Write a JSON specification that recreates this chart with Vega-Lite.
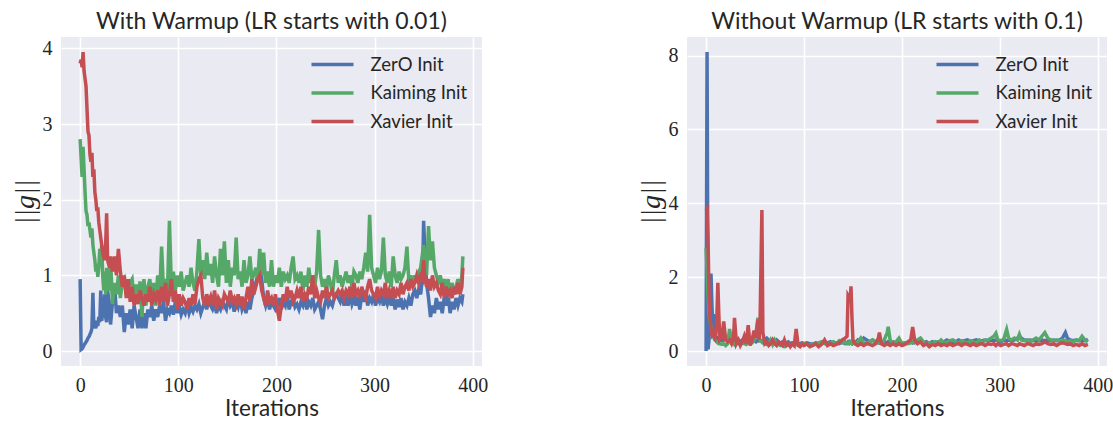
{
"$schema": "https://vega.github.io/schema/vega-lite/v6.json",
"padding": {"left": 11, "top": 11, "right": 0, "bottom": 0},
"spacing": 149,
"datasets": {
"left": [
{"i":0,"z":0.95,"k":2.8,"x":3.8},{"i":1,"z":0.02,"k":2.55,"x":3.85},{"i":2,"z":0.03,"k":2.3,"x":3.75},{"i":3,"z":0.05,"k":2.7,"x":3.95},{"i":4,"z":0.08,"k":2.4,"x":3.7},{"i":5,"z":0.1,"k":2.1,"x":3.6},{"i":6,"z":0.12,"k":1.85,"x":3.5},{"i":7,"z":0.14,"k":1.8,"x":3.2},{"i":8,"z":0.17,"k":1.65,"x":2.9},{"i":9,"z":0.19,"k":1.7,"x":2.85},{"i":10,"z":0.22,"k":1.6,"x":2.6},{"i":11,"z":0.25,"k":1.5,"x":2.5},{"i":12,"z":0.3,"k":1.62,"x":2.62},{"i":13,"z":0.77,"k":1.4,"x":2.3},{"i":14,"z":0.3,"k":1.3,"x":2.4},{"i":15,"z":0.35,"k":1.2,"x":2.1},{"i":16,"z":0.3,"k":1.05,"x":2.0},{"i":17,"z":0.4,"k":1.15,"x":1.85},{"i":18,"z":0.33,"k":0.98,"x":1.9},{"i":19,"z":0.45,"k":1.1,"x":1.7},{"i":20,"z":0.38,"k":1.35,"x":1.6},{"i":21,"z":0.8,"k":1.2,"x":1.5},{"i":22,"z":0.4,"k":1.4,"x":1.4},{"i":23,"z":0.5,"k":1.0,"x":1.3},{"i":24,"z":0.45,"k":0.8,"x":1.25},{"i":25,"z":0.75,"k":1.05,"x":1.2},{"i":26,"z":0.45,"k":0.75,"x":1.4},{"i":27,"z":0.38,"k":1.1,"x":1.82},{"i":28,"z":0.8,"k":0.9,"x":1.2},{"i":30,"z":0.6,"k":0.8,"x":1.1},{"i":31,"z":0.35,"k":1.2,"x":1.25},{"i":33,"z":0.65,"k":0.62,"x":1.05},{"i":35,"z":0.88,"k":0.9,"x":1.25},{"i":37,"z":0.5,"k":0.75,"x":1.0},{"i":39,"z":0.6,"k":1.0,"x":1.35},{"i":41,"z":0.45,"k":0.7,"x":1.05},{"i":43,"z":0.6,"k":0.9,"x":0.85},{"i":45,"z":0.25,"k":0.95,"x":1.0},{"i":47,"z":0.5,"k":0.75,"x":0.7},{"i":49,"z":0.35,"k":0.85,"x":0.95},{"i":51,"z":0.55,"k":0.9,"x":0.65},{"i":53,"z":0.3,"k":0.95,"x":0.85},{"i":55,"z":0.6,"k":0.7,"x":0.6},{"i":57,"z":0.45,"k":0.88,"x":0.75},{"i":59,"z":0.3,"k":0.65,"x":0.62},{"i":61,"z":0.55,"k":0.92,"x":0.8},{"i":63,"z":0.3,"k":0.45,"x":0.7},{"i":65,"z":0.5,"k":0.95,"x":0.6},{"i":67,"z":0.3,"k":0.6,"x":0.75},{"i":69,"z":0.55,"k":0.85,"x":0.65},{"i":71,"z":0.45,"k":0.95,"x":0.85},{"i":73,"z":0.6,"k":0.7,"x":0.6},{"i":75,"z":0.4,"k":0.9,"x":0.75},{"i":77,"z":0.55,"k":0.6,"x":0.68},{"i":79,"z":0.45,"k":1.0,"x":0.8},{"i":81,"z":0.6,"k":0.75,"x":0.6},{"i":83,"z":0.5,"k":1.38,"x":0.85},{"i":85,"z":0.65,"k":0.8,"x":0.65},{"i":87,"z":0.4,"k":0.95,"x":0.9},{"i":89,"z":0.55,"k":0.8,"x":0.6},{"i":91,"z":0.5,"k":1.72,"x":0.75},{"i":93,"z":0.6,"k":0.85,"x":0.95},{"i":95,"z":0.48,"k":1.05,"x":0.65},{"i":97,"z":0.65,"k":0.8,"x":0.8},{"i":99,"z":0.5,"k":1.0,"x":0.55},{"i":101,"z":0.6,"k":0.85,"x":0.75},{"i":103,"z":0.48,"k":1.05,"x":0.6},{"i":105,"z":0.55,"k":0.8,"x":0.7},{"i":107,"z":0.5,"k":0.9,"x":0.65},{"i":109,"z":0.62,"k":1.0,"x":0.55},{"i":111,"z":0.5,"k":0.85,"x":0.7},{"i":113,"z":0.58,"k":1.1,"x":0.6},{"i":115,"z":0.52,"k":0.9,"x":0.75},{"i":117,"z":0.6,"k":0.8,"x":0.62},{"i":119,"z":0.55,"k":1.05,"x":0.85},{"i":121,"z":0.62,"k":1.48,"x":0.95},{"i":123,"z":0.5,"k":1.0,"x":1.0},{"i":125,"z":0.58,"k":1.2,"x":0.7},{"i":127,"z":0.65,"k":0.95,"x":0.6},{"i":129,"z":0.55,"k":1.3,"x":0.75},{"i":131,"z":0.7,"k":1.0,"x":0.65},{"i":133,"z":0.6,"k":1.15,"x":0.72},{"i":135,"z":0.55,"k":0.9,"x":0.6},{"i":137,"z":0.62,"k":1.25,"x":0.8},{"i":139,"z":0.5,"k":1.0,"x":0.55},{"i":141,"z":0.6,"k":0.85,"x":0.7},{"i":143,"z":0.55,"k":1.35,"x":0.65},{"i":145,"z":0.65,"k":1.0,"x":0.6},{"i":147,"z":0.6,"k":1.45,"x":0.75},{"i":149,"z":0.55,"k":0.9,"x":0.7},{"i":151,"z":0.7,"k":1.2,"x":0.65},{"i":153,"z":0.6,"k":0.85,"x":0.8},{"i":155,"z":0.65,"k":1.1,"x":0.65},{"i":157,"z":0.52,"k":1.0,"x":0.7},{"i":159,"z":0.65,"k":1.5,"x":0.62},{"i":161,"z":0.58,"k":0.95,"x":0.75},{"i":163,"z":0.7,"k":1.05,"x":0.6},{"i":165,"z":0.55,"k":0.85,"x":0.72},{"i":167,"z":0.62,"k":1.2,"x":0.55},{"i":169,"z":0.5,"k":0.9,"x":0.7},{"i":171,"z":0.65,"k":1.0,"x":0.85},{"i":173,"z":0.55,"k":1.25,"x":0.65},{"i":175,"z":0.7,"k":0.95,"x":0.95},{"i":177,"z":0.8,"k":1.0,"x":0.75},{"i":179,"z":0.9,"k":1.1,"x":0.85},{"i":181,"z":1.0,"k":0.95,"x":0.95},{"i":183,"z":1.15,"k":1.35,"x":1.0},{"i":185,"z":0.95,"k":1.0,"x":0.8},{"i":187,"z":0.7,"k":1.3,"x":0.7},{"i":189,"z":0.6,"k":0.9,"x":0.6},{"i":191,"z":0.7,"k":1.05,"x":0.8},{"i":193,"z":0.55,"k":0.85,"x":0.65},{"i":195,"z":0.65,"k":1.2,"x":0.7},{"i":197,"z":0.6,"k":0.85,"x":0.6},{"i":199,"z":0.55,"k":1.0,"x":0.75},{"i":201,"z":0.6,"k":0.9,"x":0.55},{"i":203,"z":0.7,"k":1.1,"x":0.4},{"i":205,"z":0.55,"k":0.85,"x":0.6},{"i":207,"z":0.65,"k":1.05,"x":0.75},{"i":209,"z":0.6,"k":0.95,"x":0.65},{"i":211,"z":0.75,"k":1.0,"x":0.85},{"i":213,"z":0.55,"k":0.9,"x":0.7},{"i":215,"z":0.65,"k":1.1,"x":0.8},{"i":217,"z":0.7,"k":1.25,"x":0.65},{"i":219,"z":0.58,"k":0.95,"x":0.7},{"i":221,"z":0.62,"k":1.0,"x":0.8},{"i":223,"z":0.55,"k":0.9,"x":0.7},{"i":225,"z":0.65,"k":1.05,"x":0.85},{"i":227,"z":0.6,"k":0.8,"x":0.65},{"i":229,"z":0.7,"k":1.0,"x":0.75},{"i":231,"z":0.55,"k":0.85,"x":0.7},{"i":233,"z":0.65,"k":1.1,"x":0.85},{"i":235,"z":0.6,"k":0.9,"x":0.75},{"i":237,"z":0.7,"k":1.0,"x":1.0},{"i":239,"z":0.55,"k":0.85,"x":0.7},{"i":241,"z":0.6,"k":1.05,"x":0.8},{"i":243,"z":0.65,"k":1.6,"x":0.7},{"i":245,"z":0.55,"k":1.0,"x":0.65},{"i":247,"z":0.42,"k":0.85,"x":0.8},{"i":249,"z":0.6,"k":0.95,"x":0.7},{"i":251,"z":0.7,"k":0.8,"x":0.85},{"i":253,"z":0.6,"k":1.0,"x":0.7},{"i":255,"z":0.65,"k":0.9,"x":0.75},{"i":257,"z":0.6,"k":0.75,"x":0.8},{"i":259,"z":0.7,"k":1.0,"x":0.7},{"i":261,"z":0.75,"k":1.2,"x":0.75},{"i":263,"z":0.7,"k":0.9,"x":0.8},{"i":265,"z":0.65,"k":1.0,"x":0.75},{"i":267,"z":0.75,"k":0.85,"x":0.8},{"i":269,"z":0.6,"k":0.95,"x":0.7},{"i":271,"z":0.7,"k":1.05,"x":0.8},{"i":273,"z":0.6,"k":0.9,"x":0.75},{"i":275,"z":0.75,"k":1.0,"x":0.85},{"i":277,"z":0.62,"k":0.85,"x":0.7},{"i":279,"z":0.7,"k":1.05,"x":0.9},{"i":281,"z":0.6,"k":1.0,"x":0.75},{"i":283,"z":0.72,"k":0.9,"x":0.8},{"i":285,"z":0.55,"k":1.05,"x":0.7},{"i":287,"z":0.75,"k":0.95,"x":0.85},{"i":289,"z":0.65,"k":1.1,"x":0.75},{"i":291,"z":0.8,"k":1.3,"x":0.7},{"i":293,"z":0.6,"k":1.05,"x":0.85},{"i":295,"z":0.7,"k":1.8,"x":0.95},{"i":297,"z":0.65,"k":1.1,"x":0.8},{"i":299,"z":0.75,"k":1.0,"x":0.75},{"i":301,"z":0.6,"k":0.9,"x":0.7},{"i":303,"z":0.7,"k":1.1,"x":0.85},{"i":305,"z":0.65,"k":0.95,"x":0.7},{"i":307,"z":0.75,"k":1.05,"x":0.8},{"i":309,"z":0.6,"k":1.5,"x":0.75},{"i":311,"z":0.7,"k":1.0,"x":0.9},{"i":313,"z":0.62,"k":0.9,"x":0.7},{"i":315,"z":0.72,"k":1.05,"x":0.8},{"i":317,"z":0.6,"k":0.85,"x":0.7},{"i":319,"z":0.7,"k":1.25,"x":0.85},{"i":321,"z":0.55,"k":1.0,"x":0.7},{"i":323,"z":0.68,"k":0.9,"x":0.8},{"i":325,"z":0.58,"k":1.05,"x":0.75},{"i":327,"z":0.7,"k":0.95,"x":0.9},{"i":329,"z":0.55,"k":1.0,"x":0.75},{"i":331,"z":0.65,"k":1.1,"x":0.85},{"i":333,"z":0.6,"k":1.38,"x":0.9},{"i":335,"z":0.7,"k":0.9,"x":0.8},{"i":337,"z":0.6,"k":1.0,"x":0.95},{"i":339,"z":0.75,"k":0.85,"x":0.85},{"i":341,"z":0.8,"k":1.0,"x":0.9},{"i":343,"z":0.7,"k":0.9,"x":1.0},{"i":345,"z":0.82,"k":1.05,"x":0.9},{"i":347,"z":0.75,"k":1.1,"x":1.0},{"i":349,"z":1.0,"k":1.3,"x":0.95},{"i":350,"z":1.72,"k":1.4,"x":1.2},{"i":351,"z":1.4,"k":1.25,"x":1.0},{"i":353,"z":0.9,"k":1.0,"x":0.85},{"i":355,"z":0.7,"k":1.65,"x":0.95},{"i":357,"z":0.45,"k":1.2,"x":0.8},{"i":359,"z":0.6,"k":1.45,"x":1.0},{"i":361,"z":0.5,"k":1.1,"x":0.85},{"i":363,"z":0.7,"k":1.0,"x":0.9},{"i":365,"z":0.55,"k":0.9,"x":0.8},{"i":367,"z":0.65,"k":1.0,"x":0.75},{"i":369,"z":0.5,"k":0.85,"x":0.9},{"i":371,"z":0.7,"k":0.95,"x":0.7},{"i":373,"z":0.6,"k":0.8,"x":0.85},{"i":375,"z":0.75,"k":0.95,"x":0.75},{"i":377,"z":0.5,"k":0.7,"x":0.8},{"i":379,"z":0.65,"k":0.9,"x":0.7},{"i":381,"z":0.55,"k":0.75,"x":0.85},{"i":383,"z":0.7,"k":0.85,"x":0.75},{"i":385,"z":0.6,"k":0.95,"x":0.9},{"i":387,"z":0.7,"k":0.8,"x":0.75},{"i":389,"z":0.65,"k":1.0,"x":0.85},{"i":390,"z":0.75,"k":1.25,"x":1.1}
],
"right": [
{"i":0,"z":0.0,"k":2.8,"x":3.8},{"i":1,"z":8.1,"k":2.2,"x":3.85},{"i":2,"z":0.05,"k":1.5,"x":3.0},{"i":3,"z":0.3,"k":1.0,"x":1.5},{"i":4,"z":1.5,"k":0.8,"x":0.9},{"i":5,"z":2.1,"k":0.65,"x":0.6},{"i":6,"z":1.2,"k":0.5,"x":0.45},{"i":7,"z":0.6,"k":0.42,"x":0.5},{"i":8,"z":1.0,"k":0.35,"x":0.4},{"i":9,"z":0.5,"k":0.3,"x":0.35},{"i":10,"z":0.4,"k":0.28,"x":0.5},{"i":11,"z":0.35,"k":0.25,"x":0.9},{"i":12,"z":0.3,"k":0.22,"x":1.85},{"i":13,"z":0.35,"k":0.2,"x":1.0},{"i":14,"z":0.3,"k":0.2,"x":0.3},{"i":16,"z":0.28,"k":0.18,"x":0.35},{"i":18,"z":0.3,"k":0.2,"x":0.8},{"i":20,"z":0.35,"k":0.15,"x":0.3},{"i":22,"z":0.3,"k":0.2,"x":0.25},{"i":24,"z":0.28,"k":0.6,"x":0.3},{"i":26,"z":0.3,"k":0.25,"x":0.2},{"i":28,"z":0.25,"k":0.2,"x":0.35},{"i":29,"z":0.3,"k":0.5,"x":0.9},{"i":31,"z":0.25,"k":0.25,"x":0.2},{"i":33,"z":0.3,"k":0.2,"x":0.3},{"i":35,"z":0.25,"k":0.18,"x":0.15},{"i":37,"z":0.3,"k":0.22,"x":0.25},{"i":39,"z":0.28,"k":0.2,"x":0.4},{"i":41,"z":0.25,"k":0.18,"x":0.2},{"i":43,"z":0.3,"k":0.25,"x":0.7},{"i":45,"z":0.25,"k":0.2,"x":0.15},{"i":47,"z":0.3,"k":0.22,"x":0.3},{"i":49,"z":0.28,"k":0.3,"x":0.55},{"i":51,"z":0.25,"k":0.5,"x":0.35},{"i":53,"z":0.3,"k":0.9,"x":0.85},{"i":54,"z":0.28,"k":0.4,"x":0.3},{"i":55,"z":0.3,"k":0.3,"x":0.6},{"i":57,"z":0.25,"k":0.25,"x":3.82},{"i":58,"z":0.28,"k":0.22,"x":0.5},{"i":60,"z":0.3,"k":0.2,"x":0.2},{"i":62,"z":0.35,"k":0.18,"x":0.25},{"i":64,"z":0.3,"k":0.2,"x":0.15},{"i":66,"z":0.25,"k":0.3,"x":0.2},{"i":68,"z":0.28,"k":0.18,"x":0.3},{"i":70,"z":0.25,"k":0.3,"x":0.2},{"i":72,"z":0.3,"k":0.2,"x":0.15},{"i":74,"z":0.25,"k":0.18,"x":0.25},{"i":76,"z":0.22,"k":0.15,"x":0.2},{"i":78,"z":0.25,"k":0.18,"x":0.15},{"i":80,"z":0.2,"k":0.12,"x":0.3},{"i":82,"z":0.22,"k":0.15,"x":0.15},{"i":84,"z":0.25,"k":0.18,"x":0.2},{"i":86,"z":0.2,"k":0.15,"x":0.12},{"i":88,"z":0.22,"k":0.18,"x":0.2},{"i":90,"z":0.2,"k":0.15,"x":0.15},{"i":92,"z":0.22,"k":0.2,"x":0.6},{"i":94,"z":0.2,"k":0.18,"x":0.15},{"i":96,"z":0.2,"k":0.15,"x":0.12},{"i":98,"z":0.22,"k":0.18,"x":0.2},{"i":100,"z":0.2,"k":0.2,"x":0.15},{"i":103,"z":0.22,"k":0.18,"x":0.2},{"i":106,"z":0.2,"k":0.15,"x":0.12},{"i":109,"z":0.18,"k":0.2,"x":0.15},{"i":112,"z":0.22,"k":0.18,"x":0.2},{"i":115,"z":0.2,"k":0.22,"x":0.12},{"i":118,"z":0.22,"k":0.25,"x":0.18},{"i":121,"z":0.25,"k":0.2,"x":0.3},{"i":124,"z":0.22,"k":0.18,"x":0.15},{"i":127,"z":0.25,"k":0.22,"x":0.2},{"i":130,"z":0.2,"k":0.25,"x":0.15},{"i":133,"z":0.22,"k":0.2,"x":0.18},{"i":136,"z":0.2,"k":0.28,"x":0.22},{"i":139,"z":0.25,"k":0.22,"x":0.3},{"i":142,"z":0.2,"k":0.25,"x":0.35},{"i":144,"z":0.22,"k":0.2,"x":0.4},{"i":145,"z":0.25,"k":0.22,"x":1.5},{"i":146,"z":0.22,"k":0.2,"x":1.45},{"i":147,"z":0.25,"k":0.25,"x":1.3},{"i":148,"z":0.22,"k":0.22,"x":1.75},{"i":149,"z":0.2,"k":0.2,"x":0.9},{"i":150,"z":0.25,"k":0.22,"x":0.3},{"i":152,"z":0.22,"k":0.2,"x":0.2},{"i":155,"z":0.3,"k":0.25,"x":0.15},{"i":158,"z":0.25,"k":0.35,"x":0.2},{"i":161,"z":0.35,"k":0.22,"x":0.15},{"i":164,"z":0.3,"k":0.2,"x":0.2},{"i":167,"z":0.25,"k":0.25,"x":0.18},{"i":170,"z":0.3,"k":0.3,"x":0.15},{"i":173,"z":0.25,"k":0.22,"x":0.2},{"i":176,"z":0.22,"k":0.25,"x":0.35},{"i":177,"z":0.25,"k":0.22,"x":0.5},{"i":179,"z":0.22,"k":0.2,"x":0.2},{"i":182,"z":0.25,"k":0.3,"x":0.15},{"i":185,"z":0.22,"k":0.5,"x":0.2},{"i":186,"z":0.25,"k":0.66,"x":0.18},{"i":188,"z":0.22,"k":0.3,"x":0.15},{"i":191,"z":0.25,"k":0.2,"x":0.2},{"i":194,"z":0.22,"k":0.25,"x":0.15},{"i":197,"z":0.25,"k":0.35,"x":0.2},{"i":200,"z":0.22,"k":0.2,"x":0.15},{"i":203,"z":0.2,"k":0.22,"x":0.18},{"i":206,"z":0.22,"k":0.2,"x":0.25},{"i":209,"z":0.25,"k":0.22,"x":0.3},{"i":211,"z":0.22,"k":0.25,"x":0.65},{"i":213,"z":0.25,"k":0.22,"x":0.3},{"i":216,"z":0.22,"k":0.3,"x":0.2},{"i":219,"z":0.25,"k":0.35,"x":0.25},{"i":222,"z":0.22,"k":0.25,"x":0.15},{"i":225,"z":0.25,"k":0.2,"x":0.2},{"i":228,"z":0.2,"k":0.22,"x":0.12},{"i":231,"z":0.25,"k":0.2,"x":0.18},{"i":234,"z":0.22,"k":0.25,"x":0.15},{"i":237,"z":0.25,"k":0.22,"x":0.2},{"i":240,"z":0.22,"k":0.3,"x":0.15},{"i":243,"z":0.25,"k":0.22,"x":0.18},{"i":246,"z":0.3,"k":0.25,"x":0.15},{"i":249,"z":0.25,"k":0.28,"x":0.2},{"i":252,"z":0.22,"k":0.3,"x":0.15},{"i":255,"z":0.25,"k":0.25,"x":0.18},{"i":258,"z":0.3,"k":0.22,"x":0.2},{"i":261,"z":0.25,"k":0.28,"x":0.15},{"i":264,"z":0.28,"k":0.25,"x":0.2},{"i":267,"z":0.3,"k":0.22,"x":0.18},{"i":270,"z":0.25,"k":0.28,"x":0.15},{"i":273,"z":0.28,"k":0.25,"x":0.2},{"i":276,"z":0.3,"k":0.22,"x":0.15},{"i":279,"z":0.25,"k":0.3,"x":0.18},{"i":282,"z":0.28,"k":0.25,"x":0.2},{"i":285,"z":0.3,"k":0.28,"x":0.15},{"i":288,"z":0.28,"k":0.3,"x":0.2},{"i":291,"z":0.3,"k":0.35,"x":0.18},{"i":294,"z":0.28,"k":0.4,"x":0.2},{"i":296,"z":0.3,"k":0.48,"x":0.15},{"i":298,"z":0.28,"k":0.3,"x":0.2},{"i":301,"z":0.25,"k":0.28,"x":0.15},{"i":304,"z":0.3,"k":0.32,"x":0.18},{"i":307,"z":0.28,"k":0.58,"x":0.2},{"i":309,"z":0.3,"k":0.35,"x":0.15},{"i":312,"z":0.28,"k":0.3,"x":0.2},{"i":315,"z":0.3,"k":0.35,"x":0.18},{"i":318,"z":0.35,"k":0.3,"x":0.15},{"i":320,"z":0.4,"k":0.45,"x":0.2},{"i":322,"z":0.35,"k":0.3,"x":0.18},{"i":325,"z":0.3,"k":0.28,"x":0.15},{"i":328,"z":0.28,"k":0.3,"x":0.2},{"i":331,"z":0.3,"k":0.25,"x":0.18},{"i":334,"z":0.28,"k":0.3,"x":0.15},{"i":337,"z":0.3,"k":0.35,"x":0.2},{"i":340,"z":0.28,"k":0.3,"x":0.18},{"i":343,"z":0.3,"k":0.4,"x":0.2},{"i":346,"z":0.28,"k":0.5,"x":0.25},{"i":349,"z":0.3,"k":0.35,"x":0.2},{"i":352,"z":0.28,"k":0.3,"x":0.18},{"i":355,"z":0.3,"k":0.28,"x":0.2},{"i":358,"z":0.28,"k":0.3,"x":0.15},{"i":361,"z":0.3,"k":0.28,"x":0.2},{"i":364,"z":0.35,"k":0.3,"x":0.22},{"i":367,"z":0.5,"k":0.28,"x":0.2},{"i":369,"z":0.35,"k":0.25,"x":0.18},{"i":372,"z":0.3,"k":0.28,"x":0.2},{"i":375,"z":0.28,"k":0.25,"x":0.15},{"i":378,"z":0.3,"k":0.3,"x":0.18},{"i":381,"z":0.28,"k":0.28,"x":0.15},{"i":384,"z":0.3,"k":0.4,"x":0.2},{"i":387,"z":0.28,"k":0.3,"x":0.15},{"i":390,"z":0.32,"k":0.25,"x":0.18}
]
},
"hconcat": [
{
"width": 421, "height": 329,
"title": "With Warmup (LR starts with 0.01)",
"data": {"name": "left"},
"transform": [{"fold": ["z", "k", "x"], "as": ["s", "v"]}],
"mark": {"type": "line", "strokeWidth": 3.5, "clip": true},
"encoding": {
"x": {"field": "i", "type": "quantitative", "scale": {"domain": [-19.5, 409.5], "nice": false, "zero": false}, "axis": {"values": [0, 100, 200, 300, 400], "title": "Iterations"}},
"y": {"field": "v", "type": "quantitative", "scale": {"domain": [-0.198, 4.15], "nice": false, "zero": false}, "axis": {"values": [0, 1, 2, 3, 4], "title": "||g||", "titleFont": "Liberation Serif", "titleFontStyle": "italic", "titleFontSize": 28, "titlePadding": 3}},
"color": {"field": "s", "type": "nominal", "scale": {"domain": ["z", "k", "x"], "range": ["#4C72B0", "#55A868", "#C44E52"]}, "legend": {"labelExpr": "datum.label == 'z' ? 'ZerO Init' : datum.label == 'k' ? 'Kaiming Init' : 'Xavier Init'"}}
}
},
{
"width": 420, "height": 329,
"title": "Without Warmup (LR starts with 0.1)",
"data": {"name": "right"},
"transform": [{"fold": ["z", "k", "x"], "as": ["s", "v"]}],
"mark": {"type": "line", "strokeWidth": 3.5, "clip": true},
"encoding": {
"x": {"field": "i", "type": "quantitative", "scale": {"domain": [-19.5, 409.5], "nice": false, "zero": false}, "axis": {"values": [0, 100, 200, 300, 400], "title": "Iterations"}},
"y": {"field": "v", "type": "quantitative", "scale": {"domain": [-0.405, 8.505], "nice": false, "zero": false}, "axis": {"values": [0, 2, 4, 6, 8], "title": "||g||", "titleFont": "Liberation Serif", "titleFontStyle": "italic", "titleFontSize": 28, "titlePadding": 3}},
"color": {"field": "s", "type": "nominal", "scale": {"domain": ["z", "k", "x"], "range": ["#4C72B0", "#55A868", "#C44E52"]}, "legend": {"labelExpr": "datum.label == 'z' ? 'ZerO Init' : datum.label == 'k' ? 'Kaiming Init' : 'Xavier Init'"}}
}
}
],
"resolve": {"scale": {"color": "independent"}, "legend": {"color": "independent"}},
"config": {
"view": {"fill": "#EAEAF2", "stroke": null},
"axis": {"domain": false, "ticks": false, "grid": true, "gridColor": "#FFFFFF", "gridWidth": 1.6, "labelFont": "Liberation Serif", "labelFontSize": 20, "labelColor": "#262626", "labelPadding": 9, "labelFlush": false, "labelOverlap": false, "titleFont": "Lato", "titleFontSize": 22.5, "titleFontWeight": "normal", "titleColor": "#262626"},
"axisX": {"titlePadding": 2},
"title": {"font": "Lato", "fontSize": 23, "fontWeight": "normal", "color": "#262626", "offset": 3},
"legend": {"orient": "top-right", "title": null, "symbolType": "M-2,0H2", "symbolSize": 441, "symbolStrokeWidth": 3.5, "labelFont": "Lato", "labelFontSize": 18.5, "labelColor": "#262626", "labelOffset": 25.5, "rowPadding": 6.5, "padding": 0, "offset": 14.5}
}
}
